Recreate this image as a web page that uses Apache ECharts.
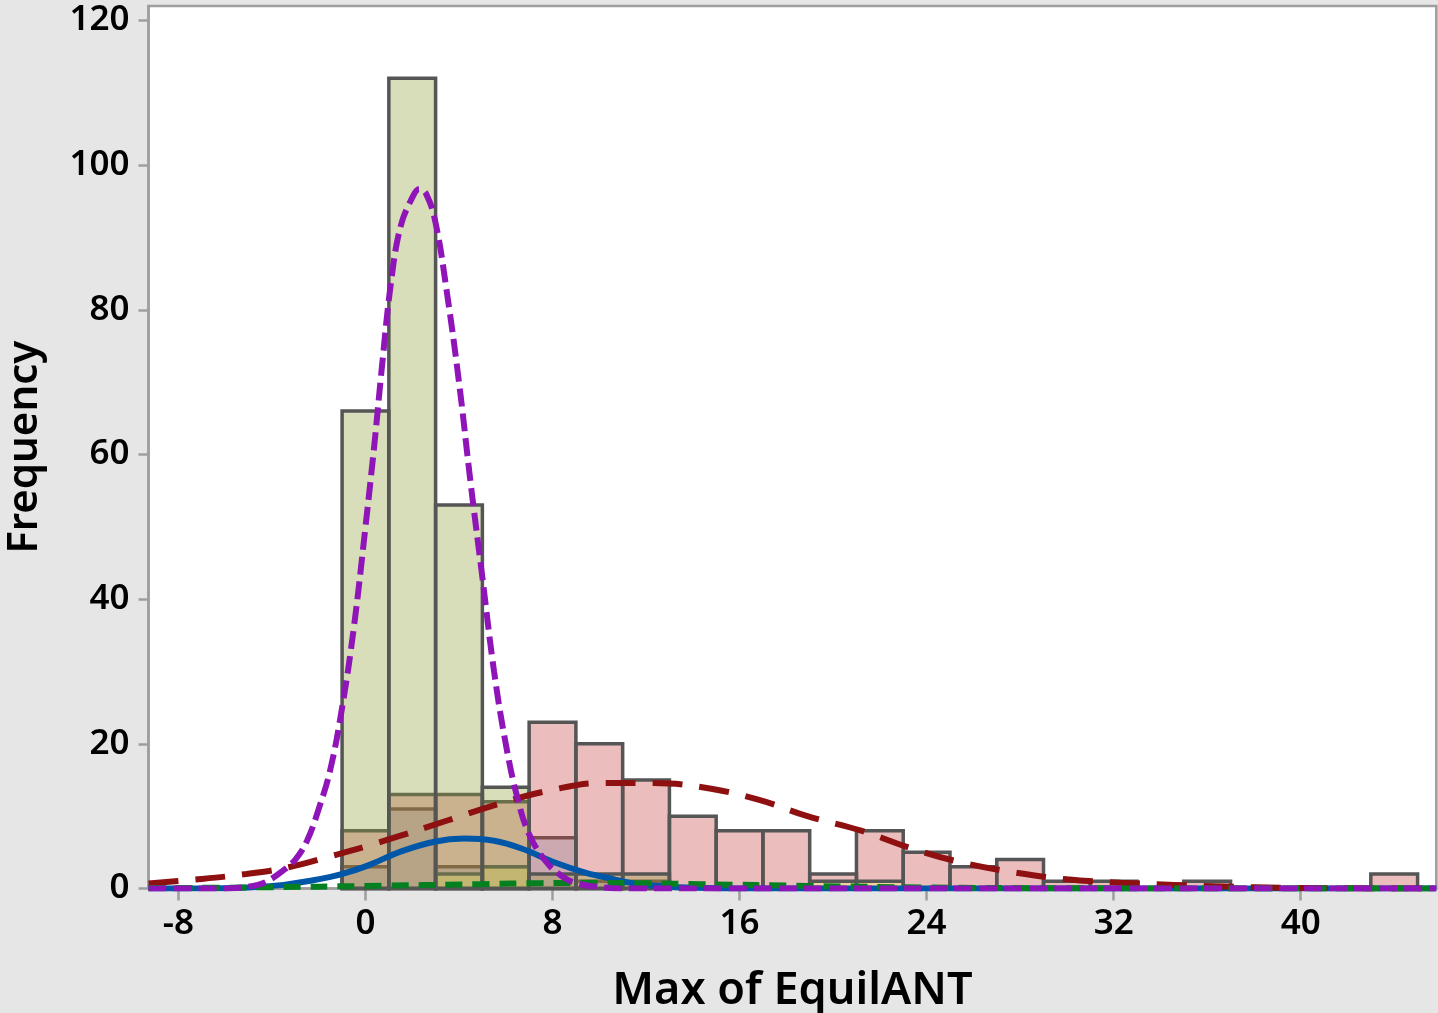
<!DOCTYPE html>
<html>
<head>
<meta charset="utf-8">
<title>Max of EquilANT</title>
<script src="https://cdn.jsdelivr.net/npm/echarts@6.0.0/dist/echarts.min.js"></script>
<style>
  html, body { margin: 0; padding: 0; background: #e6e6e6; }
  #chart { width: 1438px; height: 1013px; }
</style>
</head>
<body>
<div id="chart"></div>
<script>
// bins are 2 wide, centred on even values
const binWidth = 2
const binCenters = [0, 2, 4, 6, 8, 10, 12, 14, 16, 18, 20, 22, 24, 26, 28, 30, 32, 34, 36, 38, 40, 42, 44]

// counts per group, one entry per bin
const countsOlive  = [66, 112, 53, 14, 2, 2, 2, 0, 0, 0, 0, 0, 0, 0, 0, 0, 0, 0, 0, 0, 0, 0, 0]
const countsPink   = [8, 13, 13, 12, 23, 20, 15, 10, 8, 8, 2, 8, 5, 3, 4, 1, 1, 0, 1, 0, 0, 0, 2]
const countsBlue   = [3, 11, 3, 3, 7, 1, 1, 0, 0, 0, 0, 0, 0, 0, 0, 0, 0, 0, 0, 0, 0, 0, 0]
const countsYellow = [0, 0, 2, 3, 0, 0, 0, 0, 0, 0, 1, 1, 0, 0, 0, 0, 0, 0, 0, 0, 0, 0, 0]

// fitted normal curves as [x, frequency]
const fitPurple = [
  [-9.28, 0], [-6, 0], [-5.4, 0.1], [-4.6, 0.5], [-4.2, 1.0], [-3.6, 2.3], [-3.0, 4.0],
  [-2.5, 6.6], [-2.0, 11], [-1.5, 16.5], [-1.0, 25], [-0.5, 36], [0, 50], [0.4, 62],
  [0.7, 72], [1.1, 84], [1.5, 91.5], [2.0, 95.5], [2.3, 96.7], [2.6, 96], [3.0, 92],
  [3.5, 82], [4.0, 70], [4.5, 56], [5.0, 43], [5.5, 30], [6.0, 20], [6.5, 12.5],
  [7.0, 7.5], [7.7, 3.8], [8.4, 1.7], [9.0, 0.75], [10, 0.2], [11, 0], [45.8, 0]
]
const fitRed = [
  [-9.28, 0.7], [-7.4, 1.2], [-5.1, 2.0], [-3.2, 3.0], [-1.45, 4.5], [0, 5.8], [1.5, 7.3],
  [3.5, 9.4], [5.8, 11.8], [7.8, 13.5], [10.1, 14.6], [12.3, 14.6], [14.4, 14.0],
  [16.8, 12.3], [18.9, 10.0], [21.2, 8.0], [23.3, 5.6], [25.5, 3.6], [27.8, 2.2],
  [30, 1.27], [32.3, 0.8], [34.6, 0.5], [37, 0.25], [39.1, 0.1], [42, 0.03], [45.8, 0]
]
const fitBlue = [
  [-9.28, 0], [-7, 0.03], [-5, 0.15], [-3.5, 0.5], [-2.5, 1.0], [-1.5, 1.6], [-0.7, 2.3],
  [0.2, 3.3], [1.5, 5.1], [3.0, 6.5], [4.2, 6.9], [5.5, 6.6], [6.7, 5.5], [8.1, 3.6],
  [9.4, 2.2], [10.6, 1.3], [11.5, 0.7], [13, 0.25], [15, 0.05], [17, 0], [45.8, 0]
]
const fitGreen = [
  [-9.28, 0.06], [-8, 0.07], [-4, 0.18], [0, 0.35], [5, 0.6], [7.5, 0.74], [9.7, 0.78],
  [12, 0.72], [14.4, 0.6], [19, 0.35], [24, 0.14], [30, 0.03], [36, 0.01], [45.8, 0]
]

const xTicks = [-8, 0, 8, 16, 24, 32, 40]
const yTicks = [0, 20, 40, 60, 80, 100, 120]

const font = '"Noto Sans", "Open Sans", sans-serif'
const frameGray = '#9e9e9e'

const chart = echarts.init(document.getElementById('chart'))

const toBins = counts =>
  binCenters.map((c, i) => [c, counts[i]]).filter(d => d[1] > 0)

const histBars = fill => (params, api) => {
  const x = api.value(0)
  const n = api.value(1)
  const top = api.coord([x - binWidth / 2, n])
  const bottom = api.coord([x + binWidth / 2, 0])
  return {
    type: 'rect',
    shape: { x: top[0], y: top[1], width: bottom[0] - top[0], height: bottom[1] - top[1] },
    style: { fill: fill, stroke: '#555555', lineWidth: 3.5 },
  }
}

const histSeries = (counts, fill) => ({
  type: 'custom',
  z: 2,
  renderItem: histBars(fill),
  encode: { x: 0, y: 1 },
  data: toBins(counts),
})

const curveSeries = (points, color, dash) => ({
  type: 'line',
  z: 3,
  data: points,
  smooth: 0.4,
  showSymbol: false,
  lineStyle: { color: color, width: 6, type: dash, cap: 'butt' },
})

const labelStyle = { color: '#000', fontSize: 35, fontFamily: font, fontWeight: 600 }
const nameStyle = { color: '#000', fontSize: 45, fontFamily: font, fontWeight: 600 }

chart.setOption({
  animation: false,
  backgroundColor: '#e6e6e6',
  grid: {
    left: 148.5, top: 6, right: 1.7, bottom: 124.5,
    outerBoundsMode: 'none',
    containLabel: false,
    show: true, backgroundColor: '#ffffff', borderColor: frameGray, borderWidth: 2.5,
  },
  xAxis: {
    type: 'value',
    min: -9.28,
    max: 45.8,
    axisLine: { onZero: false, lineStyle: { color: frameGray, width: 2.5 } },
    axisTick: { customValues: xTicks, length: 12, lineStyle: { color: frameGray, width: 2.5 } },
    axisLabel: Object.assign({ customValues: xTicks, margin: 18 }, labelStyle),
    splitLine: { show: false },
    name: 'Max of EquilANT',
    nameLocation: 'middle',
    nameGap: 80,
    nameTextStyle: nameStyle,
  },
  yAxis: {
    type: 'value',
    min: 0,
    max: 122,
    axisLine: { show: true, onZero: false, lineStyle: { color: frameGray, width: 2.5 } },
    axisTick: { show: true, customValues: yTicks, length: 10, lineStyle: { color: frameGray, width: 2.5 } },
    axisLabel: Object.assign({ customValues: yTicks, margin: 19 }, labelStyle),
    splitLine: { show: false },
    name: 'Frequency',
    nameLocation: 'middle',
    nameGap: 102,
    nameTextStyle: Object.assign({}, nameStyle, { fontSize: 42 }),
  },
  series: [
    histSeries(countsBlue, 'rgba(119,164,199,0.35)'),
    histSeries(countsPink, 'rgba(198,66,66,0.35)'),
    histSeries(countsYellow, 'rgba(255,250,90,0.35)'),
    histSeries(countsOlive, 'rgba(144,158,58,0.35)'),
    curveSeries(fitBlue, '#0057a8', 'solid'),
    curveSeries(fitRed, '#8e1010', [30, 17]),
    curveSeries(fitGreen, '#058021', [17, 10]),
    curveSeries(fitPurple, '#8f15b8', [18, 7]),
  ],
})
</script>
</body>
</html>
